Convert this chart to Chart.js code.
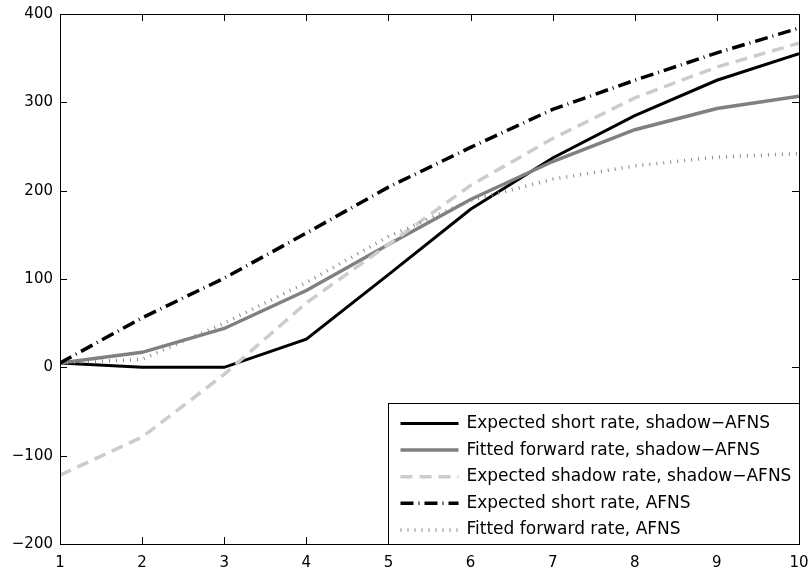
<!DOCTYPE html>
<html>
<head>
<meta charset="utf-8">
<script src="https://cdn.jsdelivr.net/npm/chart.js@4.4.0/dist/chart.umd.min.js"></script>
<style>
  html, body { margin: 0; background: #fff; }
</style>
</head>
<body>
<canvas id="chart" width="811" height="576"></canvas>
<script>
// horizon (years) and rates in basis points
const terms = [1, 2, 3, 4, 5, 6, 7, 8, 9, 10];
const shortShadow = [5, 0, 0, 32, 105, 179, 237, 285, 325, 355];
const fwdShadow = [5, 17, 44, 87, 139, 190, 233, 269, 293, 307];
const shadowRate = [-122, -79, -8, 73, 139, 206, 259, 305, 340, 367];
const shortAfns = [5, 56, 101, 152, 204, 249, 292, 325, 356, 384];
const fwdAfns = [5, 9, 50, 96, 148, 189, 213, 228, 238, 242];
const yTicks = [-200, -100, 0, 100, 200, 300, 400];

const FONT = '"DejaVu Sans", sans-serif';

function pts(vals) {
  return terms.map((t, i) => ({x: t, y: vals[i]}));
}

function fmt(v) {
  return v < 0 ? '\u2212' + Math.abs(v) : String(v);
}

const series = [
  {label: 'Expected short rate, shadow\u2212AFNS', data: pts(shortShadow), borderColor: '#000000', borderWidth: 3, borderDash: [], order: 5},
  {label: 'Fitted forward rate, shadow\u2212AFNS', data: pts(fwdShadow), borderColor: '#808080', borderWidth: 3.5, borderDash: [], order: 4},
  {label: 'Expected shadow rate, shadow\u2212AFNS', data: pts(shadowRate), borderColor: '#cccccc', borderWidth: 3.5, borderDash: [12, 7], order: 3},
  {label: 'Expected short rate, AFNS', data: pts(shortAfns), borderColor: '#000000', borderWidth: 3.5, borderDash: [13, 5, 1, 5], order: 2},
  {label: 'Fitted forward rate, AFNS', data: pts(fwdAfns), borderColor: '#888888', borderWidth: 3.5, borderDash: [1, 6], order: 1}
];

// matlab style box with inward ticks
const framePlugin = {
  id: 'frame',
  afterDatasetsDraw(chart) {
    const {ctx, chartArea: a, scales} = chart;
    ctx.save();
    ctx.strokeStyle = '#000';
    ctx.lineWidth = 1;
    ctx.setLineDash([]);
    ctx.strokeRect(Math.round(a.left) + 0.5, Math.round(a.top) + 0.5,
      Math.round(a.right - a.left), Math.round(a.bottom - a.top));
    const len = 7;
    ctx.beginPath();
    terms.forEach(t => {
      const x = Math.round(scales.x.getPixelForValue(t)) + 0.5;
      ctx.moveTo(x, a.bottom); ctx.lineTo(x, a.bottom - len);
      ctx.moveTo(x, a.top); ctx.lineTo(x, a.top + len);
    });
    yTicks.forEach(v => {
      const y = Math.round(scales.y.getPixelForValue(v)) + 0.5;
      ctx.moveTo(a.left, y); ctx.lineTo(a.left + len, y);
      ctx.moveTo(a.right, y); ctx.lineTo(a.right - len, y);
    });
    ctx.stroke();
    ctx.restore();
  }
};

const legendPlugin = {
  id: 'boxLegend',
  afterDraw(chart) {
    const {ctx, chartArea: a} = chart;
    const w = 411, h = 141, rowH = 26.6;
    const left = Math.round(a.right - w) + 0.5;
    const top = Math.round(a.bottom - h) + 0.5;
    ctx.save();
    ctx.fillStyle = '#fff';
    ctx.fillRect(left, top, w, h);
    ctx.strokeStyle = '#000';
    ctx.lineWidth = 1;
    ctx.setLineDash([]);
    ctx.strokeRect(left, top, w, h);
    ctx.font = '17px ' + FONT;
    ctx.textBaseline = 'middle';
    chart.data.datasets.forEach((ds, i) => {
      const y = top + 20 + i * rowH;
      ctx.beginPath();
      ctx.strokeStyle = ds.borderColor;
      ctx.lineWidth = ds.borderWidth;
      ctx.setLineDash(ds.borderDash);
      ctx.moveTo(left + 12, y);
      ctx.lineTo(left + 70, y);
      ctx.stroke();
      ctx.setLineDash([]);
      ctx.fillStyle = '#000';
      ctx.fillText(ds.label, left + 78, y);
    });
    ctx.restore();
  }
};

new Chart(document.getElementById('chart'), {
  type: 'line',
  data: {
    datasets: series.map(s => Object.assign({
      fill: false, pointRadius: 0, tension: 0, borderCapStyle: 'butt', borderJoinStyle: 'miter'
    }, s))
  },
  options: {
    responsive: false,
    animation: false,
    layout: {padding: {top: 14, right: 12, left: 0, bottom: 0}},
    plugins: {legend: {display: false}, tooltip: {enabled: false}},
    scales: {
      x: {
        type: 'linear', min: 1, max: 10,
        grid: {display: false, drawTicks: false},
        border: {display: false},
        ticks: {stepSize: 1, color: '#000', padding: 10, font: {family: FONT, size: 15}},
        afterFit(s) { s.height = 32; s.paddingLeft = 0; s.paddingRight = 0; }
      },
      y: {
        min: -200, max: 400,
        grid: {display: false, drawTicks: false},
        border: {display: false},
        ticks: {stepSize: 100, color: '#000', padding: 7, font: {family: FONT, size: 15}, callback: v => fmt(v)},
        afterFit(s) { s.width = 60; s.paddingTop = 0; s.paddingBottom = 0; }
      }
    }
  },
  plugins: [framePlugin, legendPlugin]
});
</script>
</body>
</html>
